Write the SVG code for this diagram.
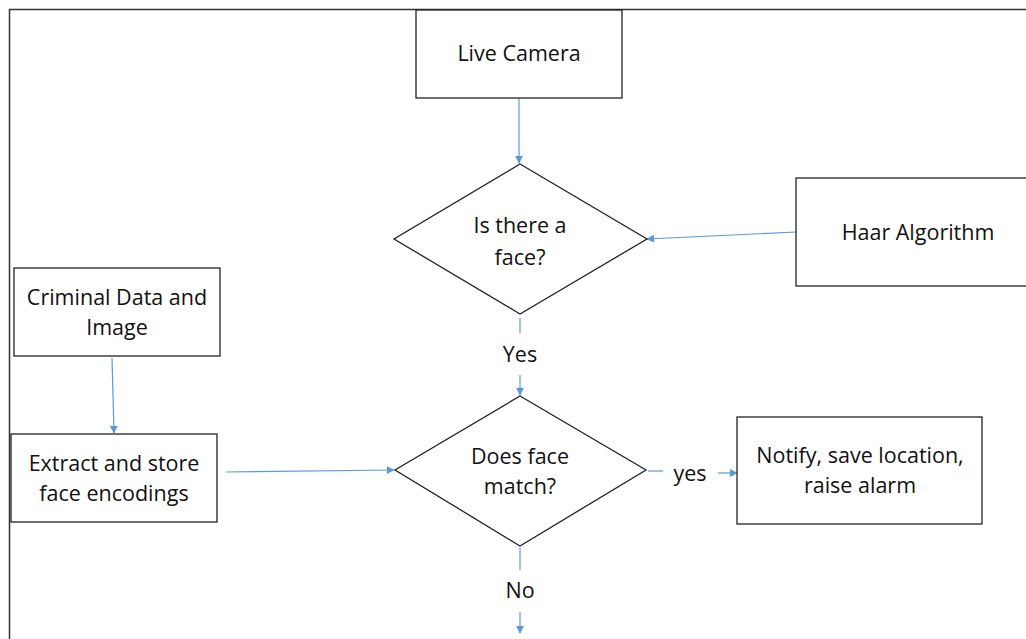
<svg xmlns="http://www.w3.org/2000/svg" width="1026" height="639" viewBox="0 0 1026 639">
<defs>
<style>
.box{fill:#fff;stroke:#222;stroke-width:1.3}
.t{font-family:"Open Sans","Liberation Sans",sans-serif;font-size:21.5px;fill:#111;text-anchor:middle}
.c{stroke:#5b9bd5;stroke-width:1.2;fill:none}
</style>
<marker id="ah" viewBox="0 0 10 10" refX="9" refY="5" markerWidth="8" markerHeight="8" orient="auto" markerUnits="userSpaceOnUse">
<path d="M0,0 L10,5 L0,10 z" fill="#5b9bd5"/>
</marker>
</defs>
<rect width="1026" height="639" fill="#fff"/>
<path d="M9.5,639 V9.5 H1026" fill="none" stroke="#333" stroke-width="1.5"/>
<g id="connectors">
<line class="c" x1="519" y1="98" x2="519" y2="163" marker-end="url(#ah)"/>
<line class="c" x1="796" y1="232" x2="647" y2="239" marker-end="url(#ah)"/>
<line class="c" x1="520" y1="318" x2="520" y2="333"/>
<line class="c" x1="520" y1="375" x2="520" y2="395" marker-end="url(#ah)"/>
<line class="c" x1="112" y1="358" x2="114" y2="433" marker-end="url(#ah)"/>
<line class="c" x1="226" y1="472" x2="394" y2="470" marker-end="url(#ah)"/>
<line class="c" x1="648" y1="471" x2="663" y2="471"/>
<line class="c" x1="718" y1="473" x2="737" y2="473" marker-end="url(#ah)"/>
<line class="c" x1="520" y1="548" x2="520" y2="570"/>
<line class="c" x1="520" y1="612" x2="520" y2="633" marker-end="url(#ah)"/>
<text class="t" x="520" y="362">Yes</text>
<text class="t" x="690" y="481">yes</text>
<text class="t" x="520" y="598">No</text>
</g>
<g id="live-camera">
<rect class="box" x="416" y="10" width="206" height="88"/>
<text class="t" x="519" y="61">Live Camera</text>
</g>
<g id="is-face">
<polygon class="box" points="520,164 647,239 520,314 394,239"/>
<text class="t" x="520" y="233">Is there a</text>
<text class="t" x="520" y="265">face?</text>
</g>
<g id="haar">
<rect class="box" x="796" y="178" width="240" height="108"/>
<text class="t" x="918" y="240">Haar Algorithm</text>
</g>
<g id="criminal-data">
<rect class="box" x="14" y="268" width="206" height="88"/>
<text class="t" x="117" y="305">Criminal Data and</text>
<text class="t" x="117" y="335">Image</text>
</g>
<g id="extract">
<rect class="box" x="11" y="434" width="206" height="88"/>
<text class="t" x="114" y="471">Extract and store</text>
<text class="t" x="114" y="501">face encodings</text>
</g>
<g id="face-match">
<polygon class="box" points="520,396 646,470 520,546 395,470"/>
<text class="t" x="520" y="464">Does face</text>
<text class="t" x="520" y="494">match?</text>
</g>
<g id="notify">
<rect class="box" x="737" y="417" width="245" height="107"/>
<text class="t" x="860" y="463">Notify, save location,</text>
<text class="t" x="860" y="493">raise alarm</text>
</g>
</svg>
